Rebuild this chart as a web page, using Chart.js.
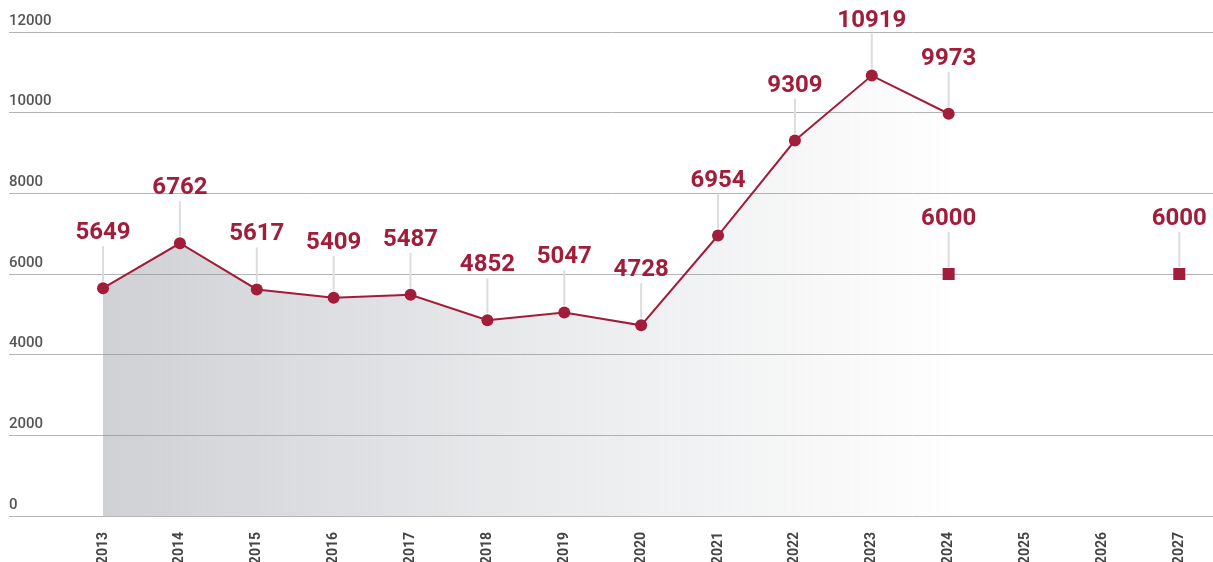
<!DOCTYPE html>
<html>
<head>
<meta charset="utf-8">
<script src="https://cdn.jsdelivr.net/npm/chart.js@4"></script>
<style>
  html, body { margin: 0; padding: 0; background: #fff; overflow: hidden; }
</style>
</head>
<body>
<!-- canvas is a little wider than the window: chart.js keeps half a marker of room on the right -->
<canvas id="chart" width="1222" height="562"></canvas>
<script>
// data
const years = [2013, 2014, 2015, 2016, 2017, 2018, 2019, 2020, 2021, 2022, 2023, 2024, 2025, 2026, 2027];
const actualYears = [2013, 2014, 2015, 2016, 2017, 2018, 2019, 2020, 2021, 2022, 2023, 2024];
const actualValues = [5649, 6762, 5617, 5409, 5487, 4852, 5047, 4728, 6954, 9309, 10919, 9973];
const targetYears = [2024, 2027];
const targetValues = [6000, 6000];
const yTicks = [0, 2000, 4000, 6000, 8000, 10000, 12000];

const red = "#a11d3a";

// leader line + bold value above each point
const valueLabels = {
  id: "valueLabels",
  afterDatasetsDraw(chart) {
    const ctx = chart.ctx;
    ctx.save();
    chart.data.datasets.forEach((ds, i) => {
      const meta = chart.getDatasetMeta(i);
      meta.data.forEach((pt, j) => {
        const v = ds.data[j].y;
        ctx.strokeStyle = "#dcdcdc";
        ctx.lineWidth = 2;
        ctx.beginPath();
        ctx.moveTo(pt.x, pt.y - 42);
        ctx.lineTo(pt.x, pt.y - 7);
        ctx.stroke();
        ctx.fillStyle = red;
        ctx.font = "bold 24px Roboto";
        ctx.textAlign = "center";
        ctx.textBaseline = "alphabetic";
        ctx.fillText(String(v), pt.x, pt.y - 49);
      });
    });
    ctx.restore();
  },
};

const ctx = document.querySelector("#chart");
new Chart(ctx, {
  type: "line",
  data: {
    datasets: [
      {
        label: "Actual",
        data: actualYears.map((y, i) => ({ x: y, y: actualValues[i] })),
        borderColor: red,
        borderWidth: 2,
        pointRadius: 6,
        pointBackgroundColor: red,
        pointBorderWidth: 0,
        fill: "origin",
        backgroundColor: (c) => {
          const area = c.chart.chartArea;
          if (!area) return "#ddd";
          const xs = c.chart.scales.x;
          const g = c.chart.ctx.createLinearGradient(xs.getPixelForValue(2013), 0, xs.getPixelForValue(2024.3), 0);
          g.addColorStop(0, "rgba(140,145,155,0.42)");
          g.addColorStop(0.5, "rgba(140,145,155,0.19)");
          g.addColorStop(1, "rgba(140,145,155,0)");
          return g;
        },
        order: 2,
      },
      {
        label: "Target",
        data: targetYears.map((y, i) => ({ x: y, y: targetValues[i] })),
        showLine: false,
        pointStyle: "rect",
        pointRadius: 8.5,
        pointBackgroundColor: red,
        pointBorderWidth: 0,
        order: 1,
      },
    ],
  },
  options: {
    responsive: false,
    animation: false,
    layout: { padding: { left: 9, right: 0, top: 32, bottom: 0 } },
    plugins: {
      legend: { display: false },
      tooltip: { enabled: false },
    },
    scales: {
      x: {
        type: "linear",
        min: 2011.777,
        max: 2027.445,
        afterBuildTicks: (axis) => {
          axis.ticks = years.map((y) => ({ value: y }));
        },
        afterFit: (axis) => {
          axis.height = 46;
        },
        grid: { display: false },
        border: { display: false },
        ticks: {
          minRotation: 90,
          maxRotation: 90,
          padding: 8,
          color: "#444",
          font: { family: "Roboto", size: 14, weight: "bold" },
          callback: (v) => String(v),
        },
      },
      y: {
        min: 0,
        max: 12000,
        afterBuildTicks: (axis) => {
          axis.ticks = yTicks.map((v) => ({ value: v }));
        },
        grid: { color: "#b4b4b4", lineWidth: 1, drawTicks: false },
        border: { display: false },
        ticks: {
          mirror: true,
          padding: 0,
          labelOffset: -11,
          color: "#555",
          font: { family: "Roboto", size: 15, weight: "500" },
          callback: (v) => String(v),
        },
      },
    },
  },
  plugins: [valueLabels],
});
</script>
</body>
</html>
